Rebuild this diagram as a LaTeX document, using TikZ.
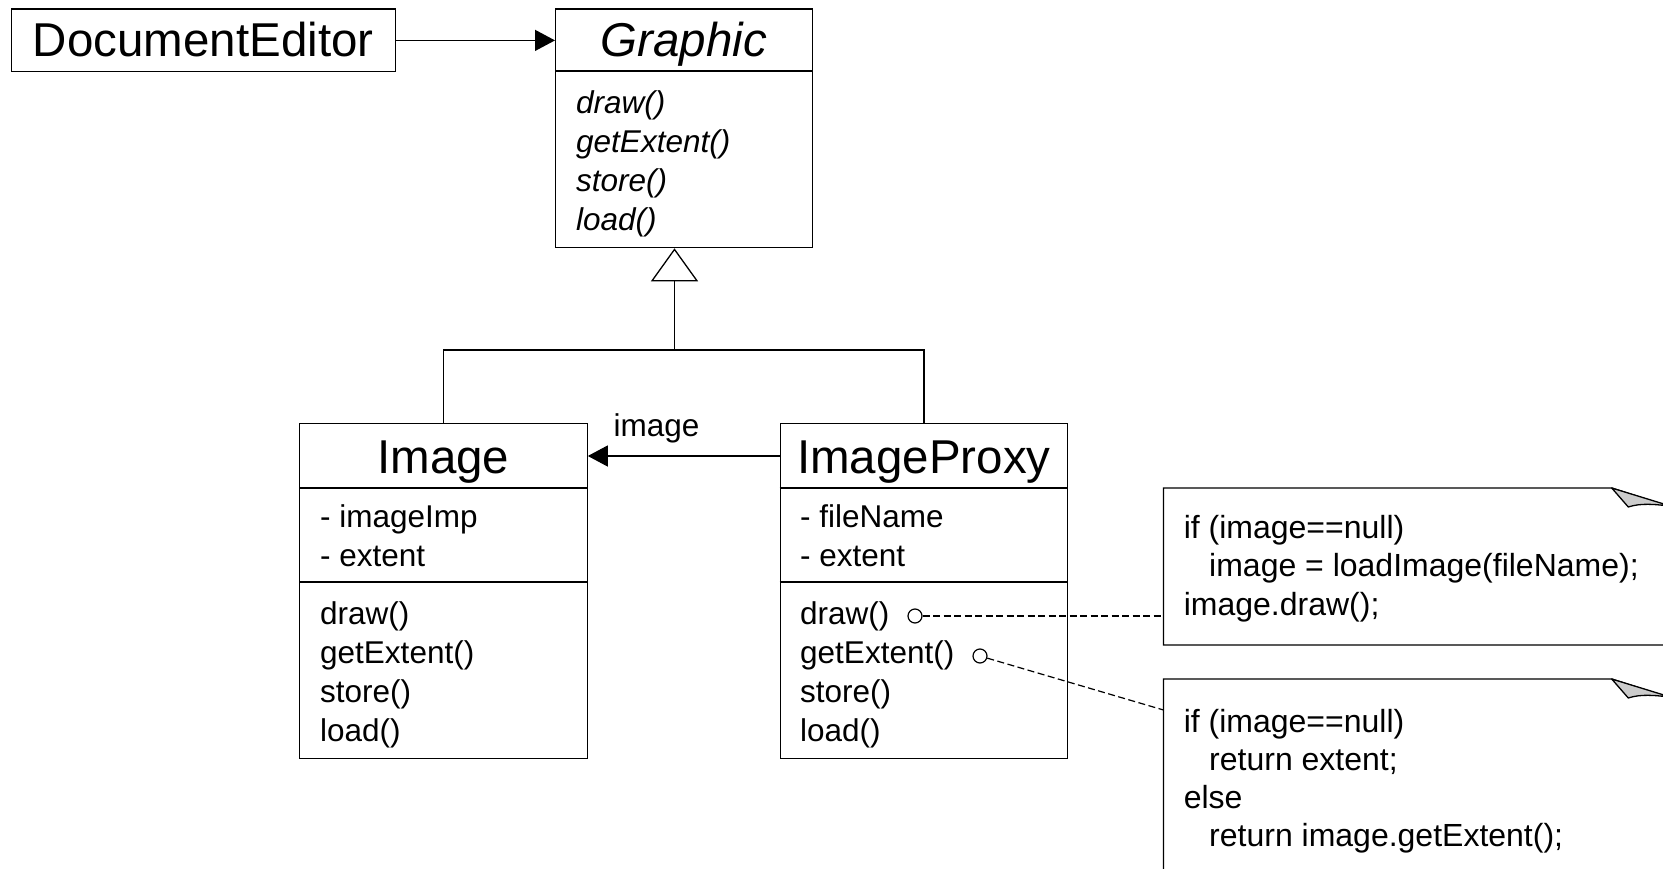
\documentclass[tikz,border=0pt]{standalone}
\usepackage{fontspec}
\setmainfont{Liberation Sans}
\usetikzlibrary{arrows.meta}

\newcommand{\clsnamesize}{\fontsize{47.5}{57}\selectfont}
\newcommand{\clsmembersize}{\fontsize{31.5}{39}\selectfont}
\newcommand{\notesize}{\fontsize{32}{39}\selectfont}

\tikzset{
  classbox/.style={draw, line width=1.3pt, inner sep=0pt, anchor=north west},
  clsname/.style={anchor=base, inner sep=0pt, font=\clsnamesize},
  clsmember/.style={anchor=base west, inner sep=0pt, font=\clsmembersize},
  notetext/.style={anchor=base west, inner sep=0pt, font=\notesize},
  umlline/.style={line width=1.3pt},
  assocarrow/.style={umlline, -{Triangle[length=20pt,width=21pt]}},
  inheritarrow/.style={umlline, -{Triangle[open,fill=white,length=33pt,width=47pt]}},
  notelink/.style={line width=1.2pt, dash pattern=on 7pt off 3.5pt},
  port/.style={circle, draw, line width=1.2pt, inner sep=0pt, minimum size=14pt},
  notefold/.style={fill=black!20, line width=1.3pt, line join=round}
}

\begin{document}
\begin{tikzpicture}[x=1pt,y=-1pt]
\useasboundingbox (0,0) rectangle (1663,869);
\clip (0,0) rectangle (1663,869);

% class boxes
\node[classbox, minimum width=384pt, minimum height=62.5pt] (editor) at (10.6,8.5) {};
\node[classbox, minimum width=256.5pt, minimum height=238.5pt] (graphic) at (555,8.5) {};
\node[classbox, minimum width=287.5pt, minimum height=335pt] (image) at (299,423) {};
\node[classbox, minimum width=287.5pt, minimum height=335pt] (proxy) at (779.5,423) {};

% compartments
\draw[umlline] (graphic.west |- 0,71) -- (graphic.east |- 0,71);
\draw[umlline] (image.west |- 0,488) -- (image.east |- 0,488);
\draw[umlline] (image.west |- 0,582) -- (image.east |- 0,582);
\draw[umlline] (proxy.west |- 0,488) -- (proxy.east |- 0,488);
\draw[umlline] (proxy.west |- 0,582) -- (proxy.east |- 0,582);

% names
\node[clsname] (editor-name) at (editor.north |- 0,57) {DocumentEditor};
\node[clsname] (graphic-name) at (graphic.north |- 0,57) {\itshape Graphic};
\node[clsname] (image-name) at (image.north |- 0,473) {Image};
\node[clsname] (proxy-name) at (proxy.north |- 0,473) {ImageProxy};

% Graphic
\node[clsmember] (graphic-draw) at (576,114) {\itshape draw()};
\node[clsmember] (graphic-extent) at (576,153) {\itshape getExtent()};
\node[clsmember] (graphic-store) at (576,191.5) {\itshape store()};
\node[clsmember] (graphic-load) at (576,230.5) {\itshape load()};

% Image
\node[clsmember] (image-imp) at (320,527) {- imageImp};
\node[clsmember] (image-ext) at (320,566) {- extent};
\node[clsmember] (image-draw) at (320,624) {draw()};
\node[clsmember] (image-extent) at (320,663) {getExtent()};
\node[clsmember] (image-store) at (320,702) {store()};
\node[clsmember] (image-load) at (320,741) {load()};

% ImageProxy
\node[clsmember] (proxy-file) at (800,527) {- fileName};
\node[clsmember] (proxy-ext) at (800,566) {- extent};
\node[clsmember] (proxy-draw) at (800,624) {draw()};
\node[clsmember] (proxy-extent) at (800,663) {getExtent()};
\node[clsmember] (proxy-store) at (800,702) {store()};
\node[clsmember] (proxy-load) at (800,741) {load()};

% associations
\draw[assocarrow] (editor.east) -- (editor.east -| graphic.west);
\draw[assocarrow] (proxy.west |- 0,456) -- (image.east |- 0,456);
\node[clsmember, anchor=base] (role) at (656.5,436) {image};

% generalization
\coordinate (join) at (674.5,350);
\draw[umlline] (image.north) |- (join) -| (proxy.north);
\draw[inheritarrow] (join) -- (join |- graphic.south);

% notes
\draw[umlline] (1700,645) -- (1163.5,645) -- (1163.5,488) -- (1611.7,488) -- (1680,510);
\filldraw[notefold] (1611.7,488) -- (1628.3,507) .. controls (1640,503) and (1655,504) .. (1672,506.5) -- cycle;
\draw[umlline] (1163.5,900) -- (1163.5,679) -- (1611.7,679) -- (1680,701);
\filldraw[notefold] (1611.7,679) -- (1628.3,698) .. controls (1640,694) and (1655,695) .. (1672,697.5) -- cycle;

\node[notetext] (note1-a) at (1183.6,538) {if (image==null)};
\node[notetext] (note1-b) at (1209,576) {image = loadImage(fileName);};
\node[notetext] (note1-c) at (1183.6,615.5) {image.draw();};

\node[notetext] (note2-a) at (1183.6,732) {if (image==null)};
\node[notetext] (note2-b) at (1209,770.4) {return extent;};
\node[notetext] (note2-c) at (1183.6,808.6) {else};
\node[notetext] (note2-d) at (1209,846.7) {return image.getExtent();};

% note links
\coordinate (note1) at (1163.5,616);
\coordinate (note2) at (1163.5,710);
\node[port] (port-draw) at (915,616) {};
\node[port] (port-extent) at (980,656) {};
\draw[notelink] (port-draw) -- (note1);
\draw[notelink] (port-extent) -- (note2);

\end{tikzpicture}
\end{document}
